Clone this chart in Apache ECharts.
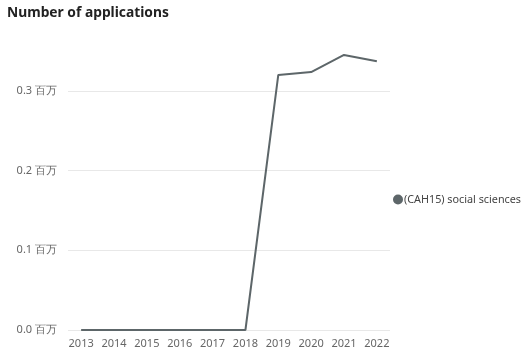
<!DOCTYPE html>
<html><head><meta charset="utf-8">
<script src="https://cdn.jsdelivr.net/npm/echarts@6/dist/echarts.min.js"></script>
<style>html,body{margin:0;padding:0;background:#fff}#c{width:526px;height:357px}</style>
</head><body><div id="c"></div>
<script>
const years = [2013, 2014, 2015, 2016, 2017, 2018, 2019, 2020, 2021, 2022];
const applications = [0, 0, 0, 0, 0, 0, 320000, 323500, 345000, 337000];
const seriesName = '(CAH15) social sciences';
const titleText = 'Number of applications';
const FONT = '"Noto Sans", "Open Sans", sans-serif';

const chart = echarts.init(document.getElementById('c'), null, {renderer: 'canvas'});
chart.setOption({
  animation: false,
  backgroundColor: '#fff',
  title: {
    text: titleText, left: 2, top: 1,
    textStyle: {fontFamily: FONT, fontSize: 13.8, fontWeight: 'bold', color: '#222'}
  },
  legend: {
    orient: 'vertical', left: 388, top: 189,
    icon: 'circle', itemWidth: 10, itemHeight: 10, itemGap: 4,
    textStyle: {fontFamily: FONT, fontSize: 10.8, color: '#444', padding: [0,0,0,-4]},
    data: [seriesName]
  },
  grid: {left: 68, right: 136, top: 43, bottom: 27, containLabel: false},
  xAxis: {
    type: 'value', min: 2012.6, max: 2022.4,
    axisLine: {show: false}, axisTick: {show: false}, splitLine: {show: false},
    axisLabel: {
      customValues: years, margin: 8,
      fontFamily: FONT, fontSize: 11, color: '#666',
      formatter: v => String(v)
    }
  },
  yAxis: {
    type: 'value', min: 0, max: 360000, interval: 100000,
    axisLine: {show: false}, axisTick: {show: false},
    splitLine: {show: true, showMaxLine: false, lineStyle: {color: '#e8e8e8', width: 1}},
    axisLabel: {
      showMaxLabel: false, margin: 11,
      fontFamily: FONT, fontSize: 11, color: '#666',
      formatter: v => (v / 1e6).toFixed(1) + ' 百万'
    }
  },
  series: [{
    name: seriesName, type: 'line',
    data: years.map((y, i) => [y, applications[i]]),
    showSymbol: false, symbol: 'circle',
    lineStyle: {color: '#5d6669', width: 2},
    itemStyle: {color: '#5d6669'}
  }]
});
</script></body></html>
